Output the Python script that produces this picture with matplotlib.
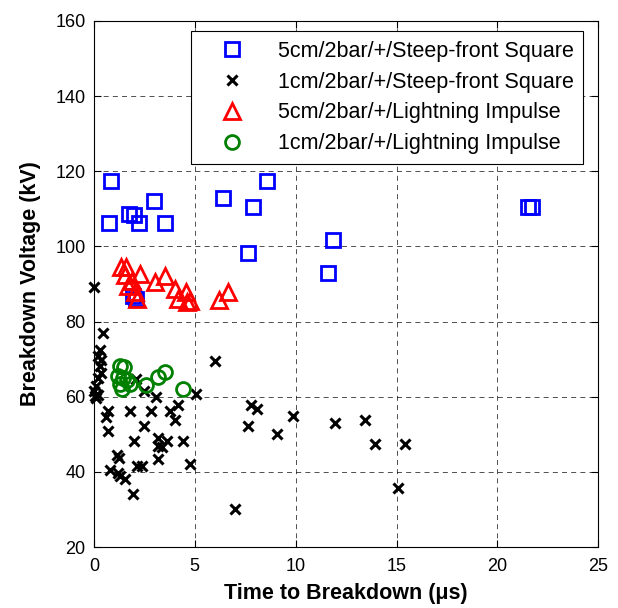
import matplotlib
matplotlib.use("Agg")
import matplotlib.pyplot as plt

plt.rcParams['font.family'] = ['Liberation Sans', 'DejaVu Sans']

# 5cm / Steep-front Square (blue squares)
sq5_t = [0.85, 0.76, 1.75, 2.0, 2.25, 3.0, 3.5, 6.4, 7.9, 8.6, 7.64, 11.6, 11.86, 21.5, 21.7, 1.95, 2.1]
sq5_v = [117.3, 106.2, 108.7, 108.3, 106.2, 112.1, 106.2, 112.9, 110.6, 117.3, 98.2, 92.9, 101.8, 110.6, 110.6, 86.8, 86.0]

# 1cm / Steep-front Square (black x)
sq1_t = [0.0, 0.45, 0.28, 0.2, 0.36, 0.28, 0.36, 0.2, 0.12, 0.0, 0.03, 0.2, 0.1,
         2.07, 2.5, 3.1, 5.05, 0.7, 0.62, 1.77, 2.85, 3.76, 4.18, 4.0, 0.7, 2.5,
         2.0, 3.18, 3.6, 3.18, 3.38, 4.42, 3.18, 4.75, 1.15, 1.25, 0.8, 1.21, 1.29,
         1.54, 2.12, 2.37, 1.95, 6.97, 5.98, 7.78, 8.07, 7.65, 9.07, 9.88, 11.93,
         13.44, 13.93, 15.42, 15.07]
sq1_v = [89.3, 77.0, 72.5, 70.8, 69.9, 68.1, 66.3, 65.0, 62.8, 61.5, 60.1, 60.4, 59.6,
         64.6, 61.5, 60.0, 60.6, 56.3, 54.6, 56.3, 56.3, 56.3, 57.9, 53.9, 50.8, 52.2,
         48.2, 49.1, 48.2, 47.0, 46.5, 48.2, 43.3, 42.2, 44.6, 43.7, 40.6, 39.8, 38.9,
         38.0, 41.5, 41.5, 34.2, 30.0, 69.4, 57.9, 56.6, 52.2, 50.0, 54.8, 53.0,
         53.9, 47.3, 47.3, 35.8]

# 5cm / Lightning Impulse (red triangles)
li5_t = [1.35, 1.6, 1.55, 2.3, 3.5, 3.05, 1.9, 1.7, 4.0, 4.55, 2.05, 2.15, 4.15, 4.6, 4.75, 6.65, 6.2]
li5_v = [94.5, 94.5, 92.5, 92.7, 92.0, 90.5, 90.7, 89.5, 88.7, 87.8, 88.0, 86.0, 86.0, 85.2, 85.5, 88.0, 85.8]

# 1cm / Lightning Impulse (green circles)
li1_t = [1.3, 1.5, 1.2, 1.45, 1.65, 1.3, 1.8, 1.4, 2.6, 3.2, 3.5, 4.4]
li1_v = [68.2, 68.0, 65.5, 65.0, 64.5, 63.5, 63.5, 62.0, 63.2, 65.2, 66.5, 62.0]

labels = ['5cm/2bar/+/Steep-front Square', '1cm/2bar/+/Steep-front Square',
          '5cm/2bar/+/Lightning Impulse', '1cm/2bar/+/Lightning Impulse']

fig = plt.figure(figsize=(6.18, 6.08), dpi=100)
ax = fig.add_axes([0.152, 0.1003, 0.816, 0.8652])

ax.plot(sq5_t, sq5_v, linestyle='none', marker='s', markersize=10, markerfacecolor='none',
        markeredgecolor='#0000ff', markeredgewidth=2.0, label=labels[0], clip_on=False)
ax.plot(sq1_t, sq1_v, linestyle='none', marker='x', markersize=7, markeredgecolor='black',
        markeredgewidth=2.2, label=labels[1], clip_on=False)
ax.plot(li5_t, li5_v, linestyle='none', marker='^', markersize=11.5, markerfacecolor='none',
        markeredgecolor='#ff0000', markeredgewidth=2.0, label=labels[2], clip_on=False)
ax.plot(li1_t, li1_v, linestyle='none', marker='o', markersize=10, markerfacecolor='none',
        markeredgecolor='#008000', markeredgewidth=2.0, label=labels[3], clip_on=False)

ax.set_xlim(0, 25)
ax.set_ylim(20, 160)
ax.set_xticks([0, 5, 10, 15, 20, 25])
ax.set_yticks([20, 40, 60, 80, 100, 120, 140, 160])
ax.grid(True, color='black', linestyle=(0, (6, 5)), linewidth=0.6, alpha=0.8)
ax.set_axisbelow(True)
ax.tick_params(direction='in', top=True, right=True, labelsize=13, length=5, width=0.8)
ax.tick_params(axis='x', pad=8)
ax.tick_params(axis='y', pad=6)
for s in ax.spines.values():
    s.set_linewidth(0.8)

ax.set_xlabel('Time to Breakdown (\u03bcs)', fontsize=15.5, fontweight='bold', labelpad=6)
ax.set_ylabel('Breakdown Voltage (kV)', fontsize=15.5, fontweight='bold', labelpad=10)

leg = ax.legend(loc='upper right', bbox_to_anchor=(0.970, 0.981), borderaxespad=0,
                fontsize=15.5, frameon=True, fancybox=False,
                edgecolor='black', framealpha=1, borderpad=0.45, labelspacing=0.46,
                handletextpad=0.65, numpoints=1, handlelength=2.9)
leg.get_frame().set_linewidth(0.8)

fig.savefig('out.png', dpi=100)
